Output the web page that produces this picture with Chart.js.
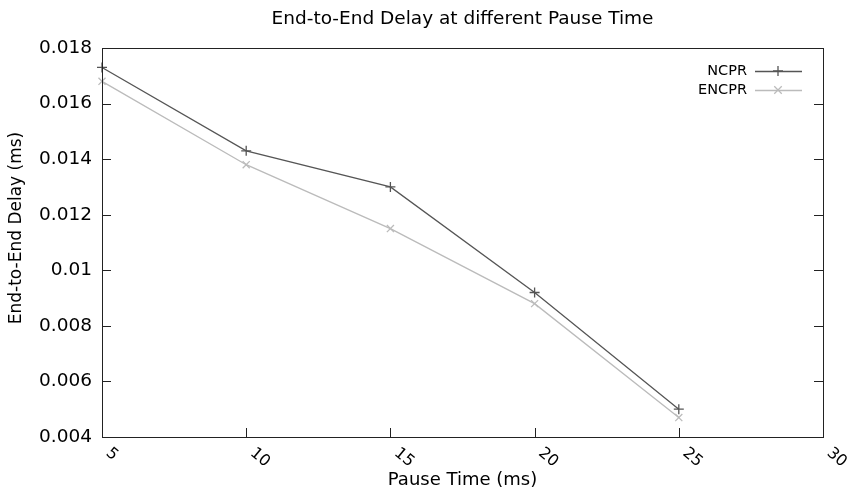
<!DOCTYPE html>
<html>
<head>
<meta charset="utf-8">
<script src="https://cdn.jsdelivr.net/npm/chart.js@4/dist/chart.umd.min.js"></script>
<style>
html,body{margin:0;padding:0;background:#fff;}
#wrap{width:850px;height:497px;position:relative;}
</style>
</head>
<body>
<div id="wrap"><canvas id="c" width="850" height="497"></canvas></div>
<script>
const pauseTimes = [5, 10, 15, 20, 25];
const ncprDelay = [0.0173, 0.0143, 0.0130, 0.0092, 0.0050];
const encprDelay = [0.0168, 0.0138, 0.0115, 0.0088, 0.0047];
const xTickValues = [5, 10, 15, 20, 25, 30];
const yTickValues = [0.004, 0.006, 0.008, 0.01, 0.012, 0.014, 0.016, 0.018];
const seriesNames = ['NCPR', 'ENCPR'];
const seriesColors = ['#555555', '#bbbbbb'];
const seriesMarkers = ['cross', 'crossRot'];
const titleText = 'End-to-End Delay at different Pause Time';
const xTitle = 'Pause Time (ms)';
const yTitle = 'End-to-End Delay (ms)';

const FONT = 'DejaVu Sans';

const framePlugin = {
  id: 'frame',
  afterDraw(chart) {
    const ctx = chart.ctx;
    const a = chart.chartArea;
    const xs = chart.scales.x, ys = chart.scales.y;
    const cxa = (a.left + a.right) / 2;
    ctx.save();
    ctx.strokeStyle = '#222';
    ctx.lineWidth = 1;
    ctx.strokeRect(Math.round(a.left) + 0.5, Math.round(a.top) + 0.5, Math.round(a.right - a.left), Math.round(a.bottom - a.top));
    const tl = 9;
    ctx.beginPath();
    yTickValues.forEach(v => {
      const y = Math.round(ys.getPixelForValue(v)) + 0.5;
      ctx.moveTo(a.left, y); ctx.lineTo(a.left + tl, y);
      ctx.moveTo(a.right, y); ctx.lineTo(a.right - tl, y);
    });
    xTickValues.forEach(v => {
      const x = Math.round(xs.getPixelForValue(v)) + 0.5;
      ctx.moveTo(x, a.bottom); ctx.lineTo(x, a.bottom - tl);
    });
    ctx.stroke();
    ctx.fillStyle = '#000';
    // title
    ctx.font = '18.5px "' + FONT + '"';
    ctx.textAlign = 'center';
    ctx.textBaseline = 'middle';
    ctx.fillText(titleText, cxa, 19);
    // x title
    ctx.font = '18px "' + FONT + '"';
    ctx.fillText(xTitle, cxa, 480);
    // y title
    ctx.save();
    ctx.translate(17, 228);
    ctx.rotate(-Math.PI / 2);
    ctx.font = '17px "' + FONT + '"';
    ctx.fillText(yTitle, 0, 0);
    ctx.restore();
    // rotated x tick labels
    ctx.font = '16px "' + FONT + '"';
    ctx.textAlign = 'left';
    ctx.textBaseline = 'top';
    xTickValues.forEach(v => {
      const x = xs.getPixelForValue(v);
      ctx.save();
      ctx.translate(x + 11, a.bottom + 8);
      ctx.rotate(40 * Math.PI / 180);
      ctx.fillText(String(v), 0, 0);
      ctx.restore();
    });
    // legend
    ctx.font = '14.5px "' + FONT + '"';
    ctx.textAlign = 'right';
    ctx.textBaseline = 'middle';
    const lx = 747, ly0 = 71, ldy = 19;
    seriesNames.forEach((n, i) => {
      const y = ly0 + i * ldy;
      ctx.fillStyle = '#000';
      ctx.fillText(n, lx, y);
      ctx.strokeStyle = seriesColors[i];
      ctx.lineWidth = 1.3;
      ctx.beginPath();
      ctx.moveTo(lx + 8, y + 0.5); ctx.lineTo(lx + 55, y + 0.5);
      ctx.stroke();
      const cx = lx + 31, r = 5;
      ctx.beginPath();
      if (seriesMarkers[i] === 'cross') {
        ctx.moveTo(cx - r, y); ctx.lineTo(cx + r, y);
        ctx.moveTo(cx, y - r); ctx.lineTo(cx, y + r);
      } else {
        const d = r * 0.75;
        ctx.moveTo(cx - d, y - d); ctx.lineTo(cx + d, y + d);
        ctx.moveTo(cx - d, y + d); ctx.lineTo(cx + d, y - d);
      }
      ctx.stroke();
    });
    ctx.restore();
  }
};

new Chart(document.getElementById('c'), {
  type: 'line',
  data: {
    datasets: seriesNames.map((n, i) => ({
      label: n,
      data: pauseTimes.map((x, j) => ({ x: x, y: (i === 0 ? ncprDelay : encprDelay)[j] })),
      borderColor: seriesColors[i],
      backgroundColor: seriesColors[i],
      borderWidth: 1.3,
      pointStyle: seriesMarkers[i],
      pointRadius: 5,
      pointBorderWidth: 1.3,
      pointBorderColor: seriesColors[i],
      tension: 0,
      fill: false,
      clip: false
    }))
  },
  options: {
    responsive: false,
    animation: false,
    devicePixelRatio: 1,
    layout: { padding: { left: 0, right: 27, top: 48, bottom: 0 } },
    plugins: {
      legend: { display: false },
      tooltip: { enabled: false },
      title: { display: false }
    },
    scales: {
      x: {
        type: 'linear',
        min: 5, max: 30,
        afterBuildTicks(s) { s.ticks = xTickValues.map(v => ({ value: v })); },
        afterFit(s) { s.height = 60; },
        grid: { display: false, drawTicks: false },
        border: { display: false },
        ticks: { display: false },
        title: { display: false }
      },
      y: {
        type: 'linear',
        min: 0.004, max: 0.018,
        afterBuildTicks(s) { s.ticks = yTickValues.map(v => ({ value: v })); },
        afterFit(s) { s.width = 102; },
        grid: { display: false, drawTicks: false },
        border: { display: false },
        ticks: {
          color: '#000',
          padding: 10,
          font: { family: FONT, size: 18.5 },
          callback: v => String(parseFloat(Number(v).toFixed(3)))
        },
        title: { display: false }
      }
    }
  },
  plugins: [framePlugin]
});
</script>
</body>
</html>
